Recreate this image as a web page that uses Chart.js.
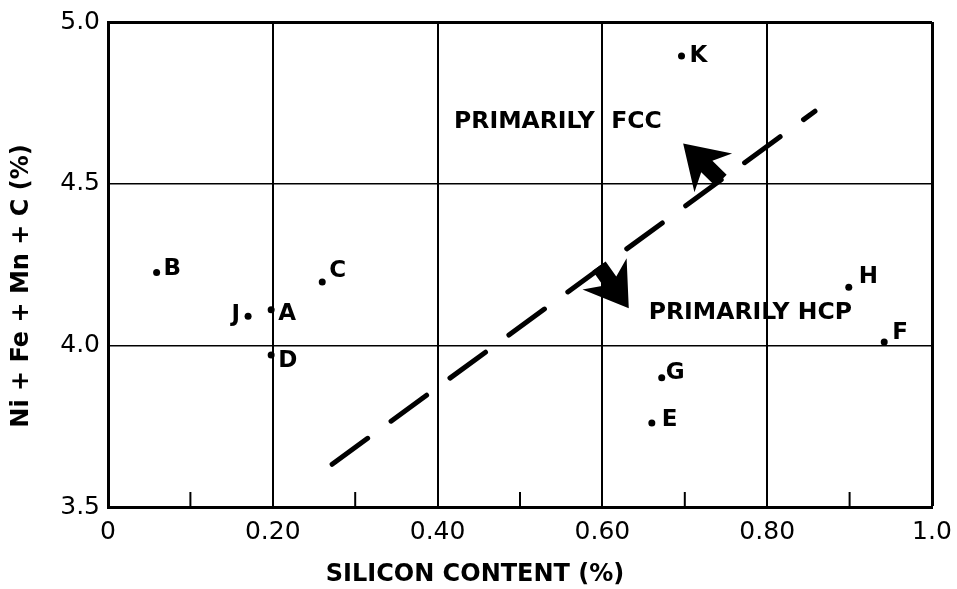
<!DOCTYPE html>
<html>
<head>
<meta charset="utf-8">
<script src="https://cdn.jsdelivr.net/npm/chart.js@4/dist/chart.umd.min.js"></script>
<style>
  html, body { margin: 0; padding: 0; background: #fff; }
  canvas { display: block; }
</style>
</head>
<body>
<canvas id="phaseChart" width="957" height="589"></canvas>
<script>
// alloy points (silicon %, Ni+Fe+Mn+C %)
const pointNames = ["K", "B", "C", "J", "A", "D", "H", "F", "G", "E"];
const siliconPct = [0.696, 0.059, 0.26, 0.17, 0.198, 0.198, 0.899, 0.942, 0.672, 0.66];
const alloyPct = [4.895, 4.225, 4.196, 4.09, 4.11, 3.97, 4.18, 4.01, 3.9, 3.76];

// dashed FCC / HCP boundary
const boundaryX = [0.272, 0.858];
const boundaryY = [3.632, 4.724];

// region arrows: [tipX, tipY, tailX, tailY]
const fccArrow = [0.698, 4.624, 0.744, 4.51];
const hcpArrow = [0.632, 4.115, 0.596, 4.245];

const regionLabels = ["PRIMARILY  FCC", "PRIMARILY HCP"];
const regionX = [0.42, 0.6563];
const regionY = [4.692, 4.101];

// axis ticks
const xTickValues = [0, 0.2, 0.4, 0.6, 0.8, 1.0];
const xTickText = ["0", "0.20", "0.40", "0.60", "0.80", "1.0"];
const xMinorTicks = [0.1, 0.3, 0.5, 0.7, 0.9];
const yTickValues = [3.5, 4.0, 4.5, 5.0];
const yTickText = ["3.5", "4.0", "4.5", "5.0"];

const FONT = "'DejaVu Sans', sans-serif";

// label nudges per point: [dx, dy, align]
const labelNudge = {
  K: [8, 0, "left"], B: [7, -4, "left"], C: [7, -11, "left"], J: [-8, -1, "right"],
  A: [7, 4, "left"], D: [7, 6, "left"], H: [10, -10, "left"], F: [8, -9, "left"],
  G: [4, -5, "left"], E: [10, -3, "left"],
};

function drawArrow(ctx, xs, ys, a) {
  const tx = xs.getPixelForValue(a[0]), ty = ys.getPixelForValue(a[1]);
  const bx = xs.getPixelForValue(a[2]), by = ys.getPixelForValue(a[3]);
  let ux = tx - bx, uy = ty - by;
  const len = Math.hypot(ux, uy);
  ux /= len; uy /= len;
  const nx = -uy, ny = ux;
  const H = 42, W = 27, notch = 9, sw = 8;
  const pts = [
    [tx, ty],
    [tx - ux * H + nx * W, ty - uy * H + ny * W],
    [tx - ux * (H - notch) + nx * sw, ty - uy * (H - notch) + ny * sw],
    [bx + nx * sw, by + ny * sw],
    [bx - nx * sw, by - ny * sw],
    [tx - ux * (H - notch) - nx * sw, ty - uy * (H - notch) - ny * sw],
    [tx - ux * H - nx * W, ty - uy * H - ny * W],
  ];
  ctx.beginPath();
  ctx.moveTo(pts[0][0], pts[0][1]);
  for (let i = 1; i < pts.length; i++) ctx.lineTo(pts[i][0], pts[i][1]);
  ctx.closePath();
  ctx.fill();
}

const annotations = {
  id: "annotations",
  afterDatasetsDraw(chart) {
    const ctx = chart.ctx;
    const xs = chart.scales.x, ys = chart.scales.y;
    ctx.save();
    ctx.fillStyle = "#000";
    ctx.strokeStyle = "#000";

    // minor ticks on bottom axis
    ctx.lineWidth = 2;
    for (const v of xMinorTicks) {
      const px = xs.getPixelForValue(v);
      ctx.beginPath();
      ctx.moveTo(px, ys.bottom);
      ctx.lineTo(px, ys.bottom - 15);
      ctx.stroke();
    }

    drawArrow(ctx, xs, ys, fccArrow);
    drawArrow(ctx, xs, ys, hcpArrow);

    // point letters
    ctx.font = "bold 23px " + FONT;
    ctx.textBaseline = "middle";
    for (let i = 0; i < pointNames.length; i++) {
      const n = labelNudge[pointNames[i]];
      ctx.textAlign = n[2];
      ctx.fillText(pointNames[i], xs.getPixelForValue(siliconPct[i]) + n[0], ys.getPixelForValue(alloyPct[i]) + n[1]);
    }

    // region text
    ctx.font = "bold 23.5px " + FONT;
    ctx.textAlign = "left";
    for (let i = 0; i < regionLabels.length; i++) {
      ctx.fillText(regionLabels[i], xs.getPixelForValue(regionX[i]), ys.getPixelForValue(regionY[i]));
    }

    // axis titles
    ctx.font = "bold 24px " + FONT;
    ctx.textAlign = "center";
    ctx.fillText("SILICON CONTENT (%)", 475, 575);
    ctx.translate(22, 286);
    ctx.rotate(-Math.PI / 2);
    ctx.fillText("Ni + Fe + Mn + C (%)", 0, 0);
    ctx.restore();
  },
};

new Chart("phaseChart", {
  type: "scatter",
  data: {
    datasets: [
      {
        data: siliconPct.map((x, i) => ({ x: x, y: alloyPct[i] })),
        pointRadius: 3.5,
        pointBackgroundColor: "#000",
        pointBorderWidth: 0,
      },
      {
        type: "line",
        data: boundaryX.map((x, i) => ({ x: x, y: boundaryY[i] })),
        borderColor: "#000",
        borderWidth: 5,
        borderDash: [44, 29],
        borderCapStyle: "round",
        pointRadius: 0,
        fill: false,
      },
    ],
  },
  options: {
    responsive: false,
    animation: false,
    layout: { padding: { top: 22, right: 25, left: 0, bottom: 0 } },
    plugins: { legend: { display: false }, tooltip: { enabled: false } },
    scales: {
      x: {
        type: "linear",
        min: 0,
        max: 1,
        afterBuildTicks: (s) => { s.ticks = xTickValues.map((v) => ({ value: v })); },
        afterFit: (s) => { s.height = 82; s.paddingLeft = 0; s.paddingRight = 0; },
        ticks: {
          autoSkip: false,
          maxRotation: 0,
          padding: 10,
          color: "#000",
          font: { family: FONT, size: 25 },
          callback: (v) => xTickText[xTickValues.findIndex((t) => Math.abs(t - v) < 1e-6)],
        },
        grid: {
          color: "#000",
          lineWidth: (c) => (c.index === xTickValues.length - 1 ? 3 : 2),
          drawTicks: false,
        },
        border: { display: true, color: "#000", width: 3 },
      },
      y: {
        type: "linear",
        min: 3.5,
        max: 5.0,
        afterBuildTicks: (s) => { s.ticks = yTickValues.map((v) => ({ value: v })); },
        afterFit: (s) => { s.width = 108; s.paddingTop = 0; s.paddingBottom = 0; },
        ticks: {
          padding: 8,
          color: "#000",
          font: { family: FONT, size: 25 },
          callback: (v) => yTickText[yTickValues.findIndex((t) => Math.abs(t - v) < 1e-6)],
        },
        grid: {
          color: "#000",
          lineWidth: (c) => (c.index === yTickValues.length - 1 ? 3 : 1.5),
          drawTicks: false,
        },
        border: { display: true, color: "#000", width: 3 },
      },
    },
  },
  plugins: [annotations],
});
</script>
</body>
</html>
